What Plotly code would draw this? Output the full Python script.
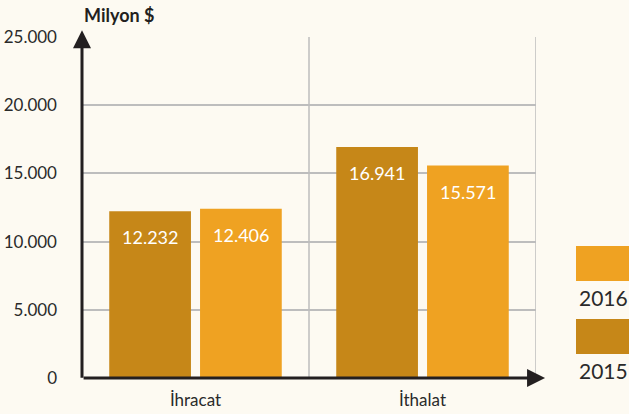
import plotly.graph_objects as go

categories = ["İhracat", "İthalat"]
years = ["2015", "2016"]
values_2015 = [12232, 16941]
values_2016 = [12406, 15571]
tick_vals = [0, 5000, 10000, 15000, 20000, 25000]
tick_text = ["0", "5.000", "10.000", "15.000", "20.000", "25.000"]
colors = {"2015": "#C68718", "2016": "#EFA222"}
BG = "#FDFAF2"
FONT = "Lato, sans-serif"

def fmt(v):
    return f"{v:,}".replace(",", ".")

fig = go.Figure()
series = {"2015": values_2015, "2016": values_2016}
for yr in years:
    fig.add_trace(go.Bar(x=categories, y=series[yr], name=yr,
                         marker=dict(color=colors[yr], line=dict(width=0)),
                         hoverinfo="skip", showlegend=False))

# value labels
for i, cat in enumerate(categories):
    for j, yr in enumerate(years):
        off = -0.2 if j == 0 else 0.2
        fig.add_annotation(x=i + off, y=series[yr][i], xref="x", yref="y",
                           text=fmt(series[yr][i]), showarrow=False,
                           yanchor="top", yshift=-13,
                           font=dict(family=FONT, size=18, color="white"))

fig.update_layout(
    width=629, height=414,
    margin=dict(l=82, r=93, t=37, b=36),
    paper_bgcolor=BG, plot_bgcolor=BG,
    barmode="group", bargap=0.2, bargroupgap=0.1,
    font=dict(family=FONT, color="#2a2a2a"),
    xaxis=dict(range=[-0.5, 1.5], showgrid=False, showline=False, zeroline=False,
               ticks="", ticklabelstandoff=10, automargin=False,
               tickfont=dict(size=17, color="#2a2a2a"), fixedrange=True),
    yaxis=dict(range=[0, 25000], tickvals=tick_vals, ticktext=tick_text,
               showgrid=True, gridcolor="#bdbdbd", gridwidth=1.5,
               zeroline=False, showline=False, ticks="", automargin=False,
               ticklabelstandoff=24,
               tickfont=dict(size=17, color="#2a2a2a"), fixedrange=True),
)

# vertical grid lines
for xv in [0.5, 1.5]:
    fig.add_shape(type="line", xref="x", yref="paper", x0=xv, x1=xv, y0=0, y1=1,
                  line=dict(color="#bdbdbd", width=1.5), layer="below")

# axis arrows
fig.add_annotation(xref="paper", yref="paper", x=1.02, y=0, ax=-463, ay=0,
                   axref="pixel", ayref="pixel", showarrow=True, text="",
                   arrowhead=2, arrowsize=1.2, arrowwidth=3, arrowcolor="#231f20")
fig.add_annotation(xref="paper", yref="paper", x=0, y=1.02, ax=0, ay=349,
                   showarrow=True, text="",
                   arrowhead=2, arrowsize=1.2, arrowwidth=3, arrowcolor="#231f20")

# axis title
fig.add_annotation(xref="paper", yref="paper", x=0, y=1.0, yshift=22, xanchor="left",
                   yanchor="middle", text="<b>Milyon $</b>", showarrow=False,
                   font=dict(family=FONT, size=18, color="#231f20"))

# legend boxes
leg = [("2016", 246, 281, 297), ("2015", 319, 354, 370)]
for yr, top, bot, ty in leg:
    fig.add_shape(type="rect", xref="paper", yref="paper",
                  x0=(576 - 82) / 454, x1=(640 - 82) / 454,
                  y0=(414 - 36 - bot) / 341, y1=(414 - 36 - top) / 341,
                  fillcolor=colors[yr], line=dict(width=0))
    fig.add_annotation(xref="paper", yref="paper", x=(603 - 82) / 454,
                       y=(378 - ty) / 341, text=yr, showarrow=False,
                       xanchor="center", yanchor="middle",
                       font=dict(family=FONT, size=21, color="#2a2a2a"))

fig.write_html("out.html", config={"displayModeBar": False},
               post_script="document.body.style.margin='0px';")
